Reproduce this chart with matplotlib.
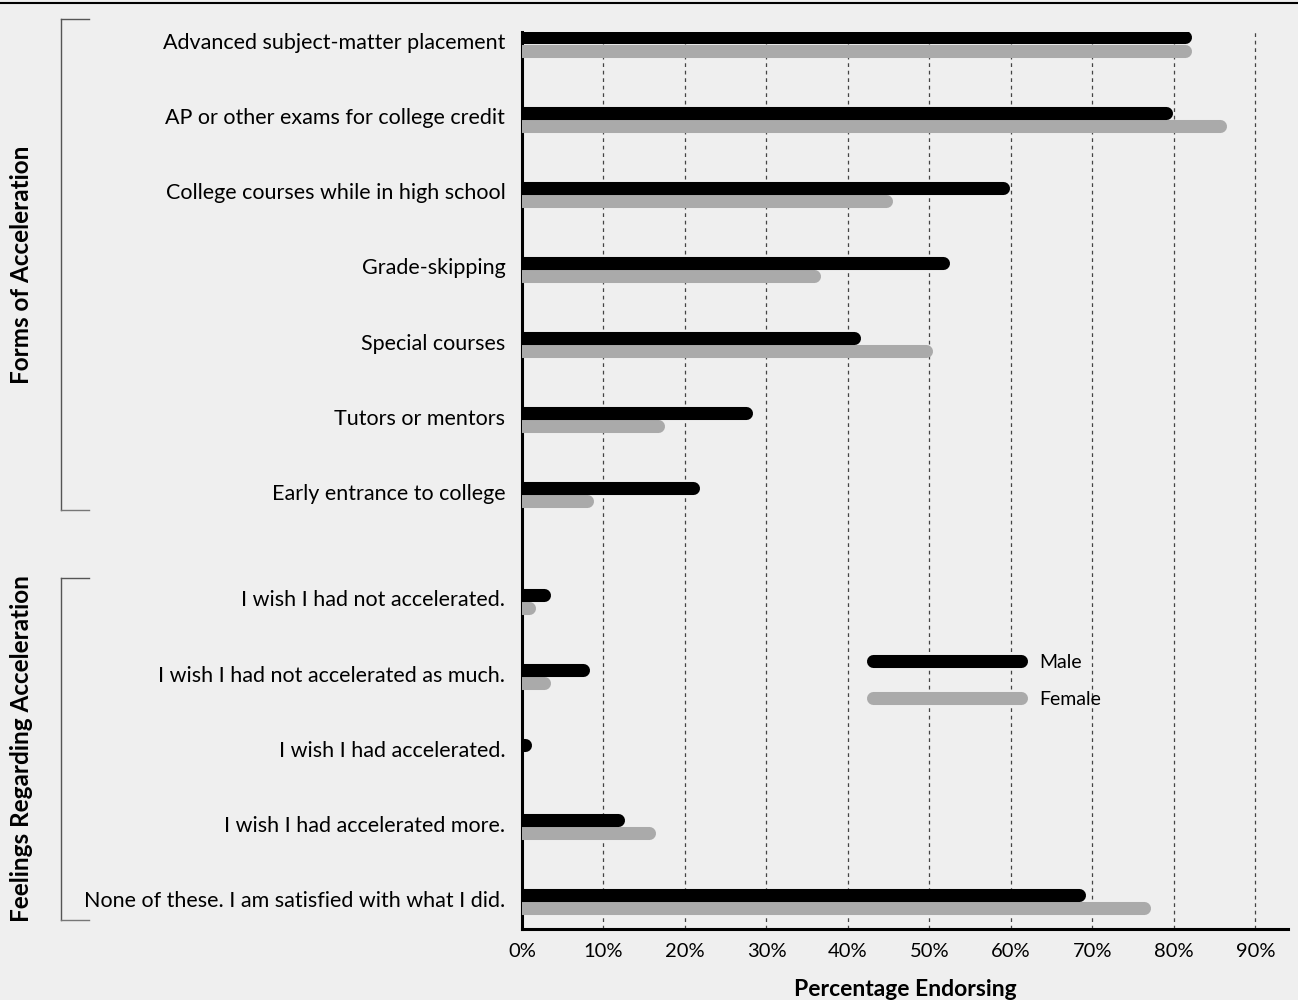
import numpy as np
import matplotlib.pyplot as plt
from matplotlib.lines import Line2D
from matplotlib.transforms import ScaledTranslation

plt.rcParams['font.family'] = ['Lato', 'DejaVu Sans']

# categories (top to bottom)
forms = ["Advanced subject-matter placement", "AP or other exams for college credit",
         "College courses while in high school", "Grade-skipping", "Special courses",
         "Tutors or mentors", "Early entrance to college"]
feelings = ["I wish I had not accelerated.", "I wish I had not accelerated as much.",
            "I wish I had accelerated.", "I wish I had accelerated more.",
            "None of these. I am satisfied with what I did."]

# percentages endorsing
male_forms = [81.3, 79.0, 59.0, 51.7, 40.7, 27.5, 21.0]
female_forms = [81.3, 85.6, 44.7, 35.8, 49.6, 16.7, 8.0]
male_feel = [2.7, 7.5, 0.4, 11.8, 68.4]
female_feel = [0.9, 2.7, 0.0, 15.6, 76.3]

xticks = [0, 10, 20, 30, 40, 50, 60, 70, 80, 90]

bg = "#efefef"
male_col = "#000000"
female_col = "#aaaaaa"

labels = forms + feelings
male = male_forms + male_feel
female = female_forms + female_feel
gap = 1.42
ypos = list(range(len(forms))) + [len(forms) - 1 + gap + i for i in range(len(feelings))]

fig = plt.figure(figsize=(12.98, 10.0), dpi=100, facecolor=bg)
ax = fig.add_axes([522 / 1298, 0.071, (1288 - 522) / 1298, 0.897])
ax.set_facecolor(bg)

lw = 9.4
off = 0.087
for y, m, f in zip(ypos, male, female):
    if f > 0:
        ax.plot([0, f], [y + off, y + off], color=female_col, lw=lw,
                solid_capstyle='round', zorder=3)
    if m > 0:
        ax.plot([0, m], [y - off, y - off], color=male_col, lw=lw,
                solid_capstyle='round', zorder=4)

ax.set_xlim(0, 94)
ax.set_ylim(ypos[-1] + 0.36, -0.16)
ax.set_xticks(xticks)
ax.set_xticklabels([f"{t}%" for t in xticks], fontsize=14.5)
ax.set_yticks(ypos)
ax.set_yticklabels(labels, fontsize=15.5)
ax.tick_params(axis='both', length=0)
ax.tick_params(axis='y', pad=12)
ax.tick_params(axis='x', pad=10)
shift = ScaledTranslation(0, 0.03, fig.dpi_scale_trans)
for lab in ax.get_yticklabels():
    lab.set_transform(lab.get_transform() + shift)
for t in xticks[1:]:
    ax.axvline(t, color="#444444", lw=0.9, ls=(0, (3, 3)), zorder=1)
for s in ['top', 'right']:
    ax.spines[s].set_visible(False)
for s in ['left', 'bottom']:
    ax.spines[s].set_linewidth(2.2)
ax.set_xlabel("Percentage Endorsing", fontsize=16.5, fontweight='bold', labelpad=14)

handles = [Line2D([], [], color=male_col, lw=lw, solid_capstyle='round'),
           Line2D([], [], color=female_col, lw=lw, solid_capstyle='round')]
ax.legend(handles, ["Male", "Female"], loc='center left', frameon=False,
          bbox_to_anchor=(0.436, 0.2765), handlelength=7.6, fontsize=14,
          labelspacing=1.05, handletextpad=0.9)

# group brackets and labels
H = 1000.0
W = 1298.0
def bracket(y0, y1, label):
    xv, xe = 61 / W, 89 / W
    fig.add_artist(Line2D([xv, xv], [1 - y0 / H, 1 - y1 / H], color="#555555", lw=1))
    fig.add_artist(Line2D([xv, xe], [1 - y0 / H, 1 - y0 / H], color="#555555", lw=1))
    fig.add_artist(Line2D([xv, xe], [1 - y1 / H, 1 - y1 / H], color="#777777", lw=1))
    fig.text(22 / W, 1 - (y0 + y1) / 2 / H, label, rotation=90, ha='center', va='center',
             fontsize=17.5, fontweight='bold')

bracket(19, 510, "Forms of Acceleration")
bracket(578, 920, "Feelings Regarding Acceleration")

fig.add_artist(Line2D([0, 1], [0.997, 0.997], color="black", lw=1.5))

fig.savefig("out.png", dpi=100, facecolor=bg)
